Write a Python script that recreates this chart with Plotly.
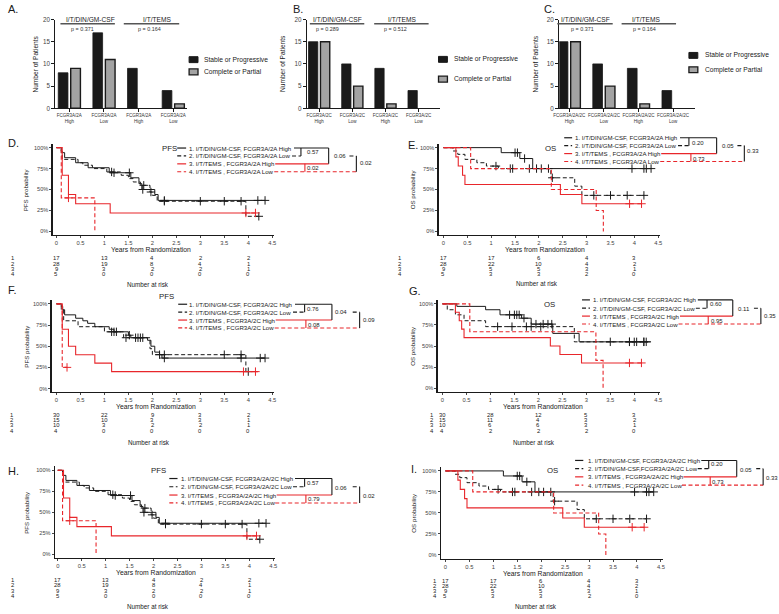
import plotly.graph_objects as go

W, H = 779, 614
FONT = "Liberation Sans, Arial, Helvetica, sans-serif"
RED = "#e8262b"
BLACK = "#1a1a1a"
GRAY_BAR = "#a3a3a3"
TICKC = "#444444"
DASH = "4px,2.5px"

# ---------------- bar chart data ----------------
bar_legend = ["Stable or Progressive", "Complete or Partial"]
bar_groups = ["I/T/DIN/GM-CSF", "I/T/TEMS"]
cats_A = ["FCGR3A/2A<br>High", "FCGR3A/2A<br>Low", "FCGR3A/2A<br>High", "FCGR3A/2A<br>Low"]
cats_B = ["FCGR3A/2C<br>High", "FCGR3A/2C<br>Low", "FCGR3A/2C<br>High", "FCGR3A/2C<br>Low"]
cats_C = ["FCGR3A/2A/2C<br>High", "FCGR3A/2A/2C<br>Low", "FCGR3A/2A/2C<br>High", "FCGR3A/2A/2C<br>Low"]
stable_A = [8, 17, 9, 4]
resp_A = [9, 11, 0, 1]
stable_B = [15, 10, 9, 4]
resp_B = [15, 5, 1, 0]
stable_C = [15, 10, 9, 4]
resp_C = [15, 5, 1, 0]
pvals_A = ["p = 0.371", "p = 0.164"]
pvals_B = ["p = 0.289", "p = 0.512"]
pvals_C = ["p = 0.371", "p = 0.164"]
bar_yticks = [0, 5, 10, 15, 20]

# ---------------- Kaplan-Meier data ----------------
km_xticks = [0, 0.5, 1, 1.5, 2, 2.5, 3, 3.5, 4, 4.5]
km_xticklabels = ["0", "0.5", "1", "1.5", "2", "2.5", "3", "3.5", "4", "4.5"]
km_yticks = [0, 0.25, 0.5, 0.75, 1.0]
km_yticklabels = ["0%", "25%", "50%", "75%", "100%"]
risk_times = [0, 1, 2, 3, 4]

# PFS, FCGR3A/2A (panels D and H)
pfs2a_1_t = [0, 0.10, 0.17, 0.40, 0.66, 1.10, 1.55, 1.72, 1.78, 2.05, 2.12, 4.35]
pfs2a_1_s = [1.0, 0.94, 0.88, 0.82, 0.76, 0.70, 0.64, 0.57, 0.50, 0.44, 0.37, 0.37]
pfs2a_1_c = [1.20, 1.52, 1.80, 2.25, 4.20, 4.35]
pfs2a_2_t = [0, 0.10, 0.12, 0.45, 0.55, 0.75, 1.05, 1.35, 1.50, 1.60, 1.75, 1.95, 2.00, 2.10, 3.95, 4.22]
pfs2a_2_s = [1.0, 0.96, 0.86, 0.82, 0.79, 0.75, 0.71, 0.67, 0.63, 0.59, 0.55, 0.47, 0.43, 0.36, 0.18, 0.18]
pfs2a_2_c = [1.15, 1.82, 1.97, 2.25, 3.00, 3.50, 3.85, 4.22]
pfs2a_3_t = [0, 0.12, 0.25, 0.40, 1.12, 4.15]
pfs2a_3_s = [1.0, 0.67, 0.44, 0.33, 0.22, 0.22]
pfs2a_3_c = [3.95, 4.15]
pfs2a_4_t = [0, 0.10, 0.80]
pfs2a_4_s = [1.0, 0.40, 0.0]
pfs2a_4_c = [0.25]
risk_pfs2a = [[17, 13, 4, 2, 2], [28, 19, 8, 4, 1], [9, 3, 2, 2, 1], [5, 0, 0, 0, 0]]

# OS, FCGR3A/2A (panels E and I)
os2a_1_t = [0, 1.21, 1.60, 1.87, 4.35]
os2a_1_s = [1.0, 0.94, 0.87, 0.75, 0.75]
os2a_1_c = [1.50, 1.55, 1.70, 1.95, 2.05, 2.20, 3.95, 4.20, 4.25, 4.35]
os2a_2_t = [0, 0.20, 0.30, 0.45, 0.70, 0.90, 1.15, 2.25, 2.75, 2.90, 4.20]
os2a_2_s = [1.0, 0.96, 0.92, 0.86, 0.82, 0.78, 0.75, 0.64, 0.54, 0.43, 0.43]
os2a_2_c = [1.10, 1.40, 1.45, 1.80, 2.28, 3.15, 3.50, 3.85, 4.20]
os2a_3_t = [0, 0.26, 0.31, 0.40, 0.45, 2.45, 2.90, 4.15]
os2a_3_s = [1.0, 0.89, 0.78, 0.67, 0.56, 0.44, 0.33, 0.33]
os2a_3_c = [3.90, 4.15]
os2a_4_t = [0, 0.57, 2.26, 3.20, 3.35]
os2a_4_s = [1.0, 0.75, 0.50, 0.25, 0.0]
os2a_4_c = []
risk_os2a = [[17, 17, 6, 4, 3], [28, 22, 10, 4, 2], [9, 5, 5, 3, 1], [5, 3, 3, 2, 0]]

# PFS, FCGR3A/2C (panel F)
pfs2c_1_t = [0, 0.10, 0.13, 0.17, 0.40, 0.55, 0.65, 0.80, 1.10, 1.20, 1.50, 1.55, 1.90, 1.97, 2.05, 2.15, 2.20, 4.35]
pfs2c_1_s = [1.0, 0.97, 0.93, 0.87, 0.83, 0.80, 0.77, 0.73, 0.70, 0.67, 0.63, 0.60, 0.57, 0.50, 0.43, 0.40, 0.36, 0.36]
pfs2c_1_c = [1.25, 1.52, 1.70, 1.75, 2.25, 3.85, 4.25, 4.35]
pfs2c_2_t = [0, 0.10, 0.15, 0.45, 1.00, 1.40, 1.95, 2.00, 3.95, 4.00]
pfs2c_2_s = [1.0, 0.93, 0.80, 0.73, 0.67, 0.60, 0.47, 0.40, 0.20, 0.20]
pfs2c_2_c = [1.15, 1.20, 1.45, 1.65, 1.80, 2.15, 2.25, 3.50, 3.85, 4.00]
pfs2c_3_t = [0, 0.12, 0.25, 0.40, 0.80, 1.15, 4.20]
pfs2c_3_s = [1.0, 0.70, 0.50, 0.40, 0.30, 0.20, 0.20]
pfs2c_3_c = [3.90, 4.15]
pfs2c_4_t = [0, 0.12, 0.22]
pfs2c_4_s = [1.0, 0.25, 0.25]
pfs2c_4_c = [0.22]
risk_pfs2c = [[30, 22, 9, 3, 2], [15, 10, 3, 3, 1], [10, 3, 2, 2, 1], [4, 0, 0, 0, 0]]

# OS, FCGR3A/2C (panel G)
os2c_1_t = [0, 0.30, 0.90, 1.20, 1.65, 1.85, 2.30, 2.85, 4.35]
os2c_1_s = [1.0, 0.97, 0.93, 0.87, 0.83, 0.76, 0.65, 0.55, 0.55]
os2c_1_c = [1.40, 1.50, 1.55, 1.60, 1.70, 1.95, 2.10, 2.20, 2.28, 3.50, 3.90, 4.00, 4.20, 4.25]
os2c_2_t = [0, 0.10, 0.27, 0.45, 0.90, 2.75, 4.20]
os2c_2_s = [1.0, 0.93, 0.87, 0.80, 0.73, 0.55, 0.55]
os2c_2_c = [1.15, 1.45, 1.75, 1.85, 2.05, 3.90, 4.05, 4.20]
os2c_3_t = [0, 0.27, 0.35, 0.40, 0.45, 2.25, 2.45, 2.90, 4.15]
os2c_3_s = [1.0, 0.90, 0.80, 0.70, 0.60, 0.50, 0.40, 0.30, 0.30]
os2c_3_c = [3.90, 4.15]
os2c_4_t = [0, 0.57, 3.20, 3.35]
os2c_4_s = [1.0, 0.67, 0.33, 0.0]
os2c_4_c = []
risk_os2c = [[30, 28, 12, 5, 3], [15, 11, 4, 3, 2], [10, 6, 6, 3, 1], [4, 2, 2, 2, 0]]

labels_2a = ["1. I/T/DIN/GM-CSF, FCGR3A/2A High", "2. I/T/DIN/GM-CSF, FCGR3A/2A Low",
             "3. I/T/TEMS , FCGR3A/2A High", "4. I/T/TEMS , FCGR3A/2A Low"]
labels_2c = ["1. I/T/DIN/GM-CSF, FCGR3A/2C High", "2. I/T/DIN/GM-CSF, FCGR3A/2C Low",
             "3. I/T/TEMS , FCGR3A/2C High", "4. I/T/TEMS , FCGR3A/2C Low"]
labels_h = ["1. I/T/DIN/GM-CSF, FCGR3A/2A/2C High", "2. I/T/DIN/GM-CSF, FCGR3A/2A/2C Low",
            "3. I/T/TEMS , FCGR3A/2A/2C High", "4. I/T/TEMS , FCGR3A/2A/2C Low"]
labels_i = ["1. I/T/DIN/GM-CSF, FCGR3A/2A/2C High", "2. I/T/DIN/GM-CSF,FCGR3A/2A/2C Low",
            "3. I/T/TEMS , FCGR3A/2A/2C High", "4. I/T/TEMS , FCGR3A/2A/2C Low"]
# p-values: [1 vs 2, 3 vs 4, 1 vs 3, 2 vs 4]
pv_D = ["0.57", "0.02", "0.06", "0.02"]
pv_E = ["0.20", "0.73", "0.05", "0.33"]
pv_F = ["0.76", "0.08", "0.04", "0.09"]
pv_G = ["0.60", "0.95", "0.11", "0.35"]
pv_H = ["0.57", "0.79", "0.06", "0.02"]
pv_I = ["0.20", "0.73", "0.05", "0.33"]


# ---------------- helpers ----------------
def px(x):
    return x / W


def py(y):
    return 1 - y / H


shapes = []
annotations = []
layout_axes = {}


def line(x0, x1, y0, y1, color=BLACK, dash=None, width=1.0):
    d = dict(type="line", xref="paper", yref="paper", x0=px(x0), x1=px(x1),
             y0=py(y0), y1=py(y1), line=dict(color=color, width=width))
    if dash:
        d["line"]["dash"] = dash
    shapes.append(d)


def rect(x0, x1, y0, y1, fill, border=BLACK, width=1.0):
    shapes.append(dict(type="rect", xref="paper", yref="paper", x0=px(x0), x1=px(x1),
                       y0=py(y1), y1=py(y0), fillcolor=fill,
                       line=dict(color=border, width=width)))


def text(x, y, s, size, anchor="left", color=BLACK, angle=0):
    annotations.append(dict(x=px(x), y=py(y), xref="paper", yref="paper", text=s,
                            showarrow=False, xanchor=anchor, yanchor="middle",
                            textangle=angle, borderpad=0,
                            font=dict(size=size, color=color, family=FONT)))


def names(i):
    s = "" if i == 1 else str(i)
    return "xaxis" + s, "yaxis" + s, "x" + s, "y" + s


def step_at(t, s, c):
    y = s[0]
    for ti, si in zip(t, s):
        if ti <= c:
            y = si
        else:
            break
    return y


fig = go.Figure()

# ---------------- bar charts ----------------
bar_panels = [
    dict(idx=1, letter="A.", lxy=(1, 5.5), cats=cats_A, stable=stable_A, resp=resp_A, pv=pvals_A,
         xl=50, xr=183, rng=[-0.4, 3.4], ytx=30,
         gtx=[85.5, 153], gline=[(55, 110), (119, 175)], ptx=[77.5, 145],
         sqx=185, ltx=199.5, ly=[56.3, 68.7]),
    dict(idx=2, letter="B.", lxy=(289, 5), cats=cats_B, stable=stable_B, resp=resp_B, pv=pvals_B,
         xl=304, xr=439, rng=[-0.37, 3.66], ytx=280,
         gtx=[335, 400], gline=[(307, 362), (372, 427)], ptx=[325, 394],
         sqx=437, ltx=452, ly=[56, 76]),
    dict(idx=3, letter="C.", lxy=(543, 5), cats=cats_C, stable=stable_C, resp=resp_C, pv=pvals_C,
         xl=559, xr=696, rng=[-0.29, 3.63], ytx=535,
         gtx=[586, 646.5], gline=[(557, 613), (622, 677)], ptx=[582, 645],
         sqx=690, ltx=705, ly=[52, 66.5]),
]
BAR_TOP, BAR_BOT = 15.7, 105.5

for p in bar_panels:
    xa, ya, xr_, yr_ = names(p["idx"])
    pos = list(range(len(p["cats"])))
    fig.add_trace(go.Bar(x=pos, y=p["stable"], width=0.28, offset=-0.32,
                         marker=dict(color=BLACK, line=dict(color=BLACK, width=0.8)),
                         xaxis=xr_, yaxis=yr_, showlegend=False, hoverinfo="skip"))
    fig.add_trace(go.Bar(x=pos, y=p["resp"], width=0.28, offset=0.04,
                         marker=dict(color=GRAY_BAR,
                                     line=dict(color=BLACK, width=[1.4 if v > 0 else 0 for v in p["resp"]])),
                         xaxis=xr_, yaxis=yr_, showlegend=False, hoverinfo="skip"))
    layout_axes[xa] = dict(domain=[px(p["xl"]), px(p["xr"])], range=p["rng"], anchor=yr_,
                           showline=True, linecolor=BLACK, linewidth=1.2, ticks="outside",
                           ticklen=2.5, tickcolor=BLACK, tickvals=pos, ticktext=p["cats"],
                           tickangle=0,
                           tickfont=dict(size=4.5, color="#333333", family=FONT),
                           showgrid=False, zeroline=False, fixedrange=True)
    layout_axes[ya] = dict(domain=[py(BAR_BOT), py(BAR_TOP)], range=[0, 20], anchor=xr_,
                           showline=True, linecolor=BLACK, linewidth=1.2, ticks="outside",
                           ticklen=3, tickcolor=BLACK, tickvals=bar_yticks,
                           tickfont=dict(size=6.3, color=TICKC, family=FONT),
                           showgrid=False, zeroline=False, fixedrange=True)
    text(p["lxy"][0], p["lxy"][1], p["letter"], 11)
    text(p["ytx"], (BAR_TOP + BAR_BOT) / 2, "Number of Patients", 6.6, anchor="center", angle=-90)
    for g in range(2):
        text(p["gtx"][g], 15.7, bar_groups[g], 6.6, anchor="center")
        line(p["gline"][g][0], p["gline"][g][1], 20, 20, color="#555555", width=1.3)
        text(p["ptx"][g], 25, p["pv"][g], 5.4, anchor="center", color="#333333")
    rect(p["sqx"], p["sqx"] + 9, p["ly"][0] - 3, p["ly"][0] + 3, BLACK)
    rect(p["sqx"], p["sqx"] + 9, p["ly"][1] - 3, p["ly"][1] + 3, GRAY_BAR, width=1.3)
    text(p["ltx"], p["ly"][0], bar_legend[0], 6.7)
    text(p["ltx"], p["ly"][1], bar_legend[1], 6.7)

# ---------------- KM panels ----------------
curves_pfs2a = [(pfs2a_1_t, pfs2a_1_s, pfs2a_1_c), (pfs2a_2_t, pfs2a_2_s, pfs2a_2_c),
                (pfs2a_3_t, pfs2a_3_s, pfs2a_3_c), (pfs2a_4_t, pfs2a_4_s, pfs2a_4_c)]
curves_os2a = [(os2a_1_t, os2a_1_s, os2a_1_c), (os2a_2_t, os2a_2_s, os2a_2_c),
               (os2a_3_t, os2a_3_s, os2a_3_c), (os2a_4_t, os2a_4_s, os2a_4_c)]
curves_pfs2c = [(pfs2c_1_t, pfs2c_1_s, pfs2c_1_c), (pfs2c_2_t, pfs2c_2_s, pfs2c_2_c),
                (pfs2c_3_t, pfs2c_3_s, pfs2c_3_c), (pfs2c_4_t, pfs2c_4_s, pfs2c_4_c)]
curves_os2c = [(os2c_1_t, os2c_1_s, os2c_1_c), (os2c_2_t, os2c_2_s, os2c_2_c),
               (os2c_3_t, os2c_3_s, os2c_3_c), (os2c_4_t, os2c_4_s, os2c_4_c)]

km_panels = [
    dict(idx=4, letter="D.", lxy=(1, 140.5), kind="PFS", curves=curves_pfs2a, labels=labels_2a,
         pv=pv_D, risk=risk_pfs2a,
         geo=dict(ax=47, x0=51, x45=269, y100=145.3, y0=230, bot=234),
         ytx=20, xtx=147, ry0=257.3, rlx=7, nar=(143, 284),
         leg=dict(title=(165.5, 146), rows=[145.7, 153.7, 161.7, 169.7], samp=(173, 182), tx=184,
                  ends=[291, 289, 272, 271], X1=298, X1r=302, X2=326, X3=354,
                  pxy=[(303, 149.7), (303, 165.5), (330, 154), (357, 160.7)])),
    dict(idx=5, letter="E.", lxy=(405, 143), kind="OS", curves=curves_os2a, labels=labels_2a,
         pv=pv_E, risk=risk_os2a,
         geo=dict(ax=437, x0=442, x45=659, y100=145.3, y0=230, bot=234),
         ytx=411, xtx=545, ry0=257.3, rlx=398, nar=(537, 282.7),
         leg=dict(title=(550, 145.7), rows=[135.3, 143.3, 151.3, 159.3], samp=(564, 572), tx=574,
                  ends=[681, 679, 662, 661], X1=690, X1r=692, X2=718, X3=746,
                  pxy=[(692, 140.2), (693, 156.7), (722, 144), (748, 149)])),
    dict(idx=6, letter="F.", lxy=(1, 289), kind="PFS", curves=curves_pfs2c, labels=labels_2c,
         pv=pv_F, risk=risk_pfs2c,
         geo=dict(ax=46, x0=51, x45=269, y100=303.3, y0=389, bot=392),
         ytx=20.7, xtx=152, ry0=415.7, rlx=6, nar=(144, 443.3),
         leg=dict(title=(162.5, 296), rows=[303.7, 311.7, 319.7, 327.7], samp=(174, 183), tx=184,
                  ends=[292, 290, 272.5, 271.5], X1=301.7, X1r=303, X2=329.3, X3=357.3,
                  pxy=[(303.3, 308.2), (304.3, 324.3), (331.7, 312), (359.3, 320)])),
    dict(idx=7, letter="G.", lxy=(406, 290), kind="OS", curves=curves_os2c, labels=labels_2c,
         pv=pv_G, risk=risk_os2c,
         geo=dict(ax=436, x0=441, x45=659, y100=303.3, y0=388.7, bot=392),
         ytx=410, xtx=543, ry0=415.7, rlx=430, nar=(533, 443.3),
         leg=dict(title=(549.5, 304), rows=[299.3, 307.7, 315.7, 323.7], samp=(582, 590), tx=592.3,
                  ends=[699, 697, 681, 679.5], X1=708.3, X1r=709.5, X2=734.3, X3=762.7,
                  pxy=[(710, 303.8), (711, 320.7), (738.3, 308.3), (764.5, 316)])),
    dict(idx=8, letter="H.", lxy=(1, 472), kind="PFS", curves=curves_pfs2a, labels=labels_h,
         pv=pv_H, risk=risk_pfs2a,
         geo=dict(ax=49.3, x0=52.3, x45=270, y100=471.7, y0=556.7, bot=560.7),
         ytx=20.7, xtx=152, ry0=582.7, rlx=6.7, nar=(143, 609.3),
         leg=dict(title=(154, 471.7), rows=[480, 488.3, 496.7, 504.7], samp=(165, 173.3), tx=175.7,
                  ends=[292, 290, 273.5, 272], X1=301.7, X1r=303, X2=329.3, X3=357.3,
                  pxy=[(303.3, 484.3), (304.3, 501), (331.7, 489.3), (359.3, 497.3)])),
    dict(idx=9, letter="I.", lxy=(408, 470), kind="OS", curves=curves_os2a, labels=labels_i,
         pv=pv_I, risk=risk_os2a,
         geo=dict(ax=439.3, x0=444, x45=661.7, y100=472.3, y0=557.3, bot=561),
         ytx=412, xtx=543, ry0=583.3, rlx=433, nar=(535, 609.3),
         leg=dict(title=(552, 472.3), rows=[461.7, 470, 478.3, 486.7], samp=(575, 583.3), tx=586.7,
                  ends=[702.5, 699, 684.5, 683], X1=710, X1r=711.5, X2=738.3, X3=765,
                  pxy=[(711.7, 465.8), (712.7, 483.3), (740.7, 471.7), (767, 479.3)])),
]

curve_styles = [(BLACK, None, 1.0), (BLACK, DASH, 1.0), (RED, None, 1.1), (RED, DASH, 1.1)]

for p in km_panels:
    xa, ya, xr_, yr_ = names(p["idx"])
    g = p["geo"]
    sx = (g["x45"] - g["x0"]) / 4.5
    right = g["x45"] + 2
    sy = g["y0"] - g["y100"]
    top = g["y100"] - 4
    layout_axes[xa] = dict(domain=[px(g["ax"]), px(right)],
                           range=[(g["ax"] - g["x0"]) / sx, (right - g["x0"]) / sx],
                           anchor=yr_, showline=True, linecolor=BLACK, linewidth=1.1,
                           ticks="outside", ticklen=2, tickcolor=BLACK, tickwidth=0.8,
                           tickvals=km_xticks, ticktext=km_xticklabels,
                           tickfont=dict(size=5.8, color=TICKC, family=FONT),
                           showgrid=False, zeroline=False, fixedrange=True)
    layout_axes[ya] = dict(domain=[py(g["bot"]), py(top)],
                           range=[-(g["bot"] - g["y0"]) / sy, (g["y0"] - top) / sy],
                           anchor=xr_, showline=True, linecolor=BLACK, linewidth=1.1,
                           ticks="outside", ticklen=2, tickcolor=BLACK, tickwidth=0.8,
                           tickvals=km_yticks, ticktext=km_yticklabels,
                           tickfont=dict(size=5.6, color=TICKC, family=FONT),
                           showgrid=False, zeroline=False, fixedrange=True)
    for k, (t, s, c) in enumerate(p["curves"]):
        col, dash, wid = curve_styles[k]
        ln = dict(color=col, width=wid, shape="hv")
        if dash:
            ln["dash"] = dash
        fig.add_trace(go.Scatter(x=t, y=s, mode="lines", line=ln, xaxis=xr_, yaxis=yr_,
                                 showlegend=False, hoverinfo="skip"))
        if c:
            fig.add_trace(go.Scatter(x=c, y=[step_at(t, s, ci) for ci in c], mode="markers",
                                     marker=dict(symbol="cross-thin", size=6,
                                                 line=dict(width=1, color=col)),
                                     xaxis=xr_, yaxis=yr_, showlegend=False, hoverinfo="skip"))
    # panel letter, axis titles
    text(p["lxy"][0], p["lxy"][1], p["letter"], 11)
    text(p["ytx"], (g["y100"] + g["y0"]) / 2, p["kind"] + " probability", 6.2,
         anchor="center", angle=-90)
    text(p["xtx"], g["bot"] + 14.8, "Years from Randomization", 6.8, anchor="center")
    # number at risk table
    for r, row in enumerate(p["risk"]):
        yy = p["ry0"] + 5.3 * r
        text(p["rlx"], yy, str(r + 1), 5.9, anchor="center", color="#222222")
        for tt, n in zip(risk_times, row):
            text(g["x0"] + tt * sx, yy, str(n), 5.9, anchor="center", color="#222222")
    text(p["nar"][0], p["nar"][1], "Number at risk", 6.3, anchor="center")
    # legend with p-value brackets
    L = p["leg"]
    ys = L["rows"]
    text(L["title"][0], L["title"][1], p["kind"], 7.8, anchor="center")
    for k in range(4):
        col, dash, wid = curve_styles[k]
        line(L["samp"][0], L["samp"][1], ys[k], ys[k], col, dash, 1.2)
        text(L["tx"], ys[k], p["labels"][k], 6.1)
    e = L["ends"]
    line(e[0], L["X2"], ys[0], ys[0], BLACK, None, 1.1)
    line(e[1], L["X1"], ys[1], ys[1], BLACK, DASH, 1.1)
    line(L["X3"] - 7, L["X3"], ys[1], ys[1], BLACK, DASH, 1.1)
    line(e[2], L["X2"], ys[2], ys[2], RED, None, 1.1)
    line(e[3], L["X3"], ys[3], ys[3], RED, DASH, 1.1)
    line(L["X1"], L["X1"], ys[0], ys[1], BLACK, None, 1.1)
    line(L["X1r"], L["X1r"], ys[2], ys[3], RED, None, 1.1)
    line(L["X2"], L["X2"], ys[0], ys[2], BLACK, None, 1.1)
    line(L["X3"], L["X3"], ys[1], ys[3], BLACK, None, 1.1)
    for k in range(4):
        text(L["pxy"][k][0], L["pxy"][k][1], p["pv"][k], 6.0)

fig.update_layout(width=W, height=H, margin=dict(l=0, r=0, t=0, b=0),
                  paper_bgcolor="white", plot_bgcolor="white", showlegend=False,
                  barmode="overlay", font=dict(family=FONT, color=BLACK),
                  shapes=shapes, annotations=annotations, **layout_axes)

fig.write_html("out.html", config={"displayModeBar": False, "staticPlot": True},
               post_script="document.body.style.margin='0';"
                           "document.documentElement.style.overflow='hidden';")
